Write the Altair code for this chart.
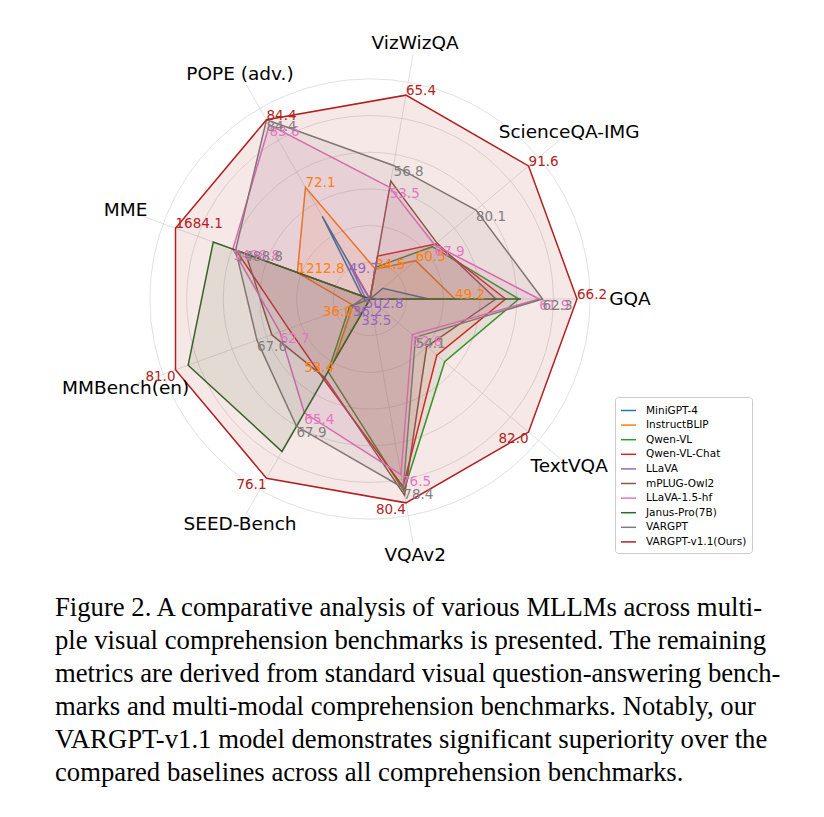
import math
import altair as alt
import pandas as pd

# ---------------- data ----------------
benchmarks = ["GQA", "ScienceQA-IMG", "VizWizQA", "POPE (adv.)", "MME",
              "MMBench(en)", "SEED-Bench", "VQAv2", "TextVQA"]

models = ["MiniGPT-4", "InstructBLIP", "Qwen-VL", "Qwen-VL-Chat", "LLaVA",
          "mPLUG-Owl2", "LLaVA-1.5-hf", "Janus-Pro(7B)", "VARGPT",
          "VARGPT-v1.1(Ours)"]

colors = ["#1f77b4", "#ff7f0e", "#2ca02c", "#d62728", "#9467bd",
          "#8c564b", "#e377c2", "#2a6a2a", "#7f7f7f", "#b22222"]

N = None
minigpt4      = [43.5, 39.6, N,    65.2, 581.7,  23.0, N,    N,    N]
instructblip  = [49.2, 60.5, 34.5, 72.1, 1212.8, 36.0, 53.4, N,    N]
qwen_vl       = [59.3, 67.1, 35.2, N,    N,      38.2, 56.3, 78.8, 63.8]
qwen_vl_chat  = [57.5, 68.2, 38.9, N,    1487.5, 60.6, 58.2, 78.2, 61.5]
llava         = [N,    N,    N,    49.7, 502.8,  36.2, 33.5, N,    N]
mplug_owl2    = [56.1, 68.7, 54.5, N,    1450.2, 64.5, 57.8, 79.4, 58.2]
llava15_hf    = [61.9, 67.9, 53.5, 83.6, 1498.8, 62.7, 65.4, 76.5, 52.8]
janus_pro     = [59.6, N,    N,    N,    1567.1, 79.2, 72.1, N,    N]
vargpt        = [62.3, 80.1, 56.8, 84.4, 1488.8, 67.6, 67.9, 78.4, 54.1]
vargpt_v11    = [66.2, 91.6, 65.4, 84.4, 1684.1, 81.0, 76.1, 80.4, 82.0]

series = [minigpt4, instructblip, qwen_vl, qwen_vl_chat, llava,
          mplug_owl2, llava15_hf, janus_pro, vargpt, vargpt_v11]

# models whose values are written next to their vertices
label_models = ["InstructBLIP", "LLaVA", "LLaVA-1.5-hf", "VARGPT", "VARGPT-v1.1(Ours)"]
flip_models = ["InstructBLIP", "VARGPT-v1.1(Ours)"]

grid_levels = [0.2, 0.4, 0.6, 0.8, 1.0, 1.2]

caption_lines = [
    "Figure 2. A comparative analysis of various MLLMs across multi-",
    "ple visual comprehension benchmarks is presented. The remaining",
    "metrics are derived from standard visual question-answering bench-",
    "marks and multi-modal comprehension benchmarks. Notably, our",
    "VARGPT-v1.1 model demonstrates significant superiority over the",
    "compared baselines across all comprehension benchmarks.",
]

# ---------------- layout ----------------
W, H = 800, 790
CX, CY = 362, 291        # centre of the radar in chart pixels
R = 207                  # pixel radius of normalised value 1.0
OUTER = 1.2
LABEL_R = 1.256
NB = len(benchmarks)

rows = []
for m, vals in zip(models, series):
    for i, (b, v) in enumerate(zip(benchmarks, vals)):
        rows.append({"model": m, "bench": b, "idx": i, "value": v})
df = pd.DataFrame(rows)

bench_df = pd.DataFrame({"bench": benchmarks, "idx": list(range(NB))})
grid_df = pd.DataFrame({"level": grid_levels})
cap_df = pd.DataFrame({"line": caption_lines, "row": list(range(len(caption_lines)))})

xs = alt.Scale(domain=[-CX / R, (W - CX) / R], nice=False, zero=False)
ys = alt.Scale(domain=[(CY - H) / R, CY / R], nice=False, zero=False)

cscale = alt.Scale(domain=models, range=colors)
legend = alt.Legend(
    title=None, orient="none", legendX=607, legendY=389,
    symbolType="stroke", symbolSize=225, symbolStrokeWidth=1.5,
    labelFont="DejaVu Sans", labelFontSize=10.5, labelColor="#000000",
    labelOffset=9, rowPadding=0.6, padding=5,
    fillColor="#ffffff", strokeColor="#cccccc", cornerRadius=3,
)

base = alt.Chart(df).transform_joinaggregate(
    maxv="max(value)", groupby=["bench"]
).transform_calculate(
    r="isValid(datum.value) ? pow(datum.value / datum.maxv, 3) : 0",
    ang=f"datum.idx * 2 * PI / {NB}",
).transform_calculate(
    px="datum.r * cos(datum.ang)",
    py="datum.r * sin(datum.ang)",
)

X = alt.X("px:Q", scale=xs, axis=None)
Y = alt.Y("py:Q", scale=ys, axis=None)

GRID = "#d9d9d9"

# grid circles
circles = alt.Chart(grid_df).transform_calculate(
    gx="0", gy="0", area=f"PI * pow(datum.level * {R}, 2)"
).mark_point(shape="circle", filled=False, stroke=GRID, strokeWidth=0.8,
             opacity=1).encode(
    x=alt.X("gx:Q", scale=xs, axis=None),
    y=alt.Y("gy:Q", scale=ys, axis=None),
    size=alt.Size("area:Q", scale=None, legend=None),
)

# spokes
spokes = alt.Chart(bench_df).transform_calculate(
    ang=f"datum.idx * 2 * PI / {NB}",
    zx="0", zy="0",
).transform_calculate(
    sx=f"{OUTER} * cos(datum.ang)", sy=f"{OUTER} * sin(datum.ang)",
).mark_rule(stroke=GRID, strokeWidth=0.8).encode(
    x=alt.X("zx:Q", scale=xs, axis=None),
    y=alt.Y("zy:Q", scale=ys, axis=None),
    x2="sx:Q", y2="sy:Q",
)

# category labels
cat_labels = alt.Chart(bench_df).transform_calculate(
    ang=f"datum.idx * 2 * PI / {NB}",
).transform_calculate(
    lx=f"{LABEL_R} * cos(datum.ang)", ly=f"{LABEL_R} * sin(datum.ang)",
).mark_text(font="DejaVu Sans", fontSize=18.5, color="#000000",
            align="center", baseline="middle").encode(
    x=alt.X("lx:Q", scale=xs, axis=None),
    y=alt.Y("ly:Q", scale=ys, axis=None),
    text="bench:N",
)

layers = [circles, spokes]

for m, c in zip(models, colors):
    poly = base.transform_filter(alt.datum.model == m)
    line = poly.mark_line(interpolate="linear-closed", strokeWidth=1.5).encode(
        x=X, y=Y, order=alt.Order("idx:Q"),
        color=alt.Color("model:N", scale=cscale, legend=legend),
    )
    fill = poly.mark_line(interpolate="linear-closed", fill=c, fillOpacity=0.1,
                          strokeOpacity=0, strokeWidth=0).encode(
        x=X, y=Y, order=alt.Order("idx:Q"),
    )
    layers += [line, fill]

layers.append(cat_labels)

TXT = dict(font="DejaVu Sans", fontSize=13.5)
for m in label_models:
    c = colors[models.index(m)]
    t = base.transform_filter(alt.datum.model == m).transform_filter(
        "isValid(datum.value)")
    enc = dict(x=X, y=Y, text=alt.Text("value:Q", format=".1f"))
    if m in flip_models:
        layers.append(t.transform_filter("datum.idx < 5").mark_text(
            align="left", baseline="alphabetic", color=c, **TXT).encode(**enc))
        layers.append(t.transform_filter("datum.idx >= 5").mark_text(
            align="right", baseline="top", color=c, **TXT).encode(**enc))
    else:
        layers.append(t.mark_text(align="left", baseline="top", color=c,
                                  **TXT).encode(**enc))

caption = alt.Chart(cap_df).transform_calculate(
    cy="608 + datum.row * 33"
).mark_text(font="Liberation Serif", fontSize=26.7, color="#000000",
            align="left", baseline="alphabetic").encode(
    x=alt.value(47),
    y=alt.Y("cy:Q", scale=None, axis=None),
    text="line:N",
)
layers.append(caption)

chart = alt.layer(*layers).properties(
    width=W, height=H, padding=0,
    autosize=alt.AutoSizeParams(type="none"),
).configure_view(stroke=None)

chart.save("out.html", embed_options={"renderer": "svg", "actions": False})
